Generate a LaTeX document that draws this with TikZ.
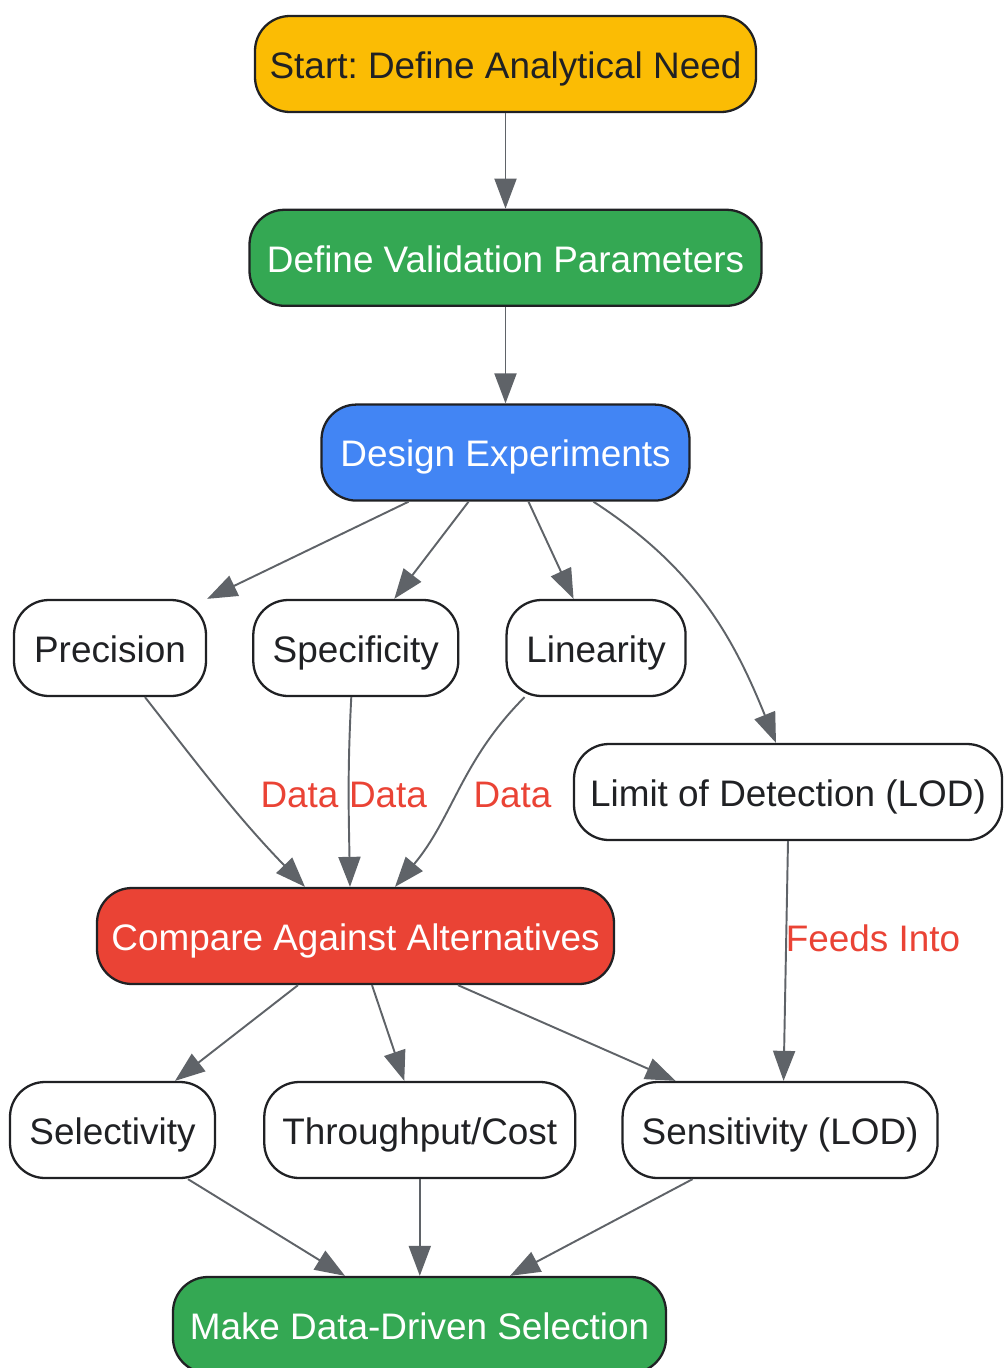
\documentclass[tikz,border=0pt]{standalone}
\usepackage{fontspec}
\setmainfont{Liberation Sans}
\usetikzlibrary{arrows.meta, positioning, calc}
\definecolor{needyellow}{HTML}{FBBC04}
\definecolor{stepgreen}{HTML}{34A853}
\definecolor{designblue}{HTML}{4285F4}
\definecolor{compared}{HTML}{EA4335}
\definecolor{borderdark}{HTML}{202124}
\definecolor{edgegray}{HTML}{5F6368}
\frenchspacing

\begin{document}
\begin{tikzpicture}[
        base/.style={rectangle, draw=borderdark, line width=1.3pt, rounded corners=0.7cm, minimum height=1.92cm, inner sep=0pt, text height=0.57cm, text depth=0cm, align=center, text=borderdark, font=\fontsize{21}{25}\selectfont},
        plainbox/.style={base, fill=white},
        yellowbox/.style={base, fill=needyellow},
        greenbox/.style={base, fill=stepgreen, text=white},
        bluebox/.style={base, fill=designblue, text=white},
        redbox/.style={base, fill=compared, text=white},
        link/.style={-{Triangle[length=0.6cm, width=0.44cm]}, line width=1.1pt, draw=edgegray},
        lbl/.style={text=compared, inner sep=0pt, text height=0.57cm, text depth=0cm, font=\fontsize{21}{25}\selectfont}
    ]
        \useasboundingbox (0,0) rectangle (20.08,-27.36);

        \node[yellowbox, minimum width=10.02cm] (start) at (10.11,-1.28) {Start: Define Analytical Need};
        \node[greenbox, minimum width=10.24cm, below=1.91cm of start] (params) {Define Validation Parameters};
        \node[bluebox, minimum width=7.36cm, below=1.93cm of params] (design) {Design Experiments};

        \node[plainbox, minimum width=3.84cm] (precision) at (2.2,-12.96) {Precision};
        \node[plainbox, minimum width=4.1cm, right=0.9cm of precision] (specificity) {Specificity};
        \node[plainbox, minimum width=3.58cm, right=0.92cm of specificity] (linearity) {Linearity};
        \node[plainbox, minimum width=8.56cm] (lod) at (15.76,-15.84) {Limit of Detection (LOD)};

        \node[redbox, minimum width=10.34cm] (compare) at (7.11,-18.72) {Compare Against Alternatives};

        \node[plainbox, minimum width=4.1cm] (selectivity) at (2.25,-22.6) {Selectivity};
        \node[plainbox, minimum width=6.22cm, right=0.94cm of selectivity] (throughput) {Throughput/Cost};
        \node[plainbox, minimum width=6.3cm, right=0.9cm of throughput] (sensitivity) {Sensitivity (LOD)};

        \node[greenbox, minimum width=9.86cm] (selection) at (8.39,-26.5) {Make Data-Driven Selection};

        % edge labels
        \node[lbl] (dataprec) at (5.99,-15.86) {Data};
        \node[lbl] (dataspec) at (7.76,-15.86) {Data};
        \node[lbl] (datalin) at (10.25,-15.86) {Data};
        \node[lbl] (feeds) at (17.46,-18.74) {Feeds Into};

        \draw[link] (start) -- (params);
        \draw[link] (params) -- (design);
        \draw[link] ($(design.south)+(-1.94,0)$) -- (precision.north east);
        \draw[link] ($(design.south)+(-0.74,0)$) -- ($(specificity.north)+(0.77,0)$);
        \draw[link] ($(design.south)+(0.46,0)$) -- ($(linearity.north)+(-0.45,0)$);
        \draw[link] ($(design.south)+(1.76,0)$) to[out=-33, in=112] ($(lod.north)+(-0.24,0)$);

        \draw[link] ($(precision.south)+(0.7,0)$) to[out=-52, in=134] ($(compare.north)+(-1.01,0)$);
        \draw[link] ($(specificity.south)+(-0.09,0)$) to[out=-93, in=91] ($(compare.north)+(-0.11,0)$);
        \draw[link] ($(linearity.south)+(-1.43,0)$) to[out=-135, in=50] ($(compare.north)+(0.79,0)$);
        \draw[link] (lod.south) -- ($(sensitivity.north)+(0.07,0)$);

        \draw[link] ($(compare.south)+(-1.15,0)$) -- ($(selectivity.north)+(1.25,0)$);
        \draw[link] ($(compare.south)+(0.33,0)$) -- ($(throughput.north)+(-0.31,0)$);
        \draw[link] ($(compare.south)+(2.05,0)$) -- ($(sensitivity.north)+(-2.09,0)$);

        \draw[link] ($(selectivity.south)+(1.51,0)$) -- ($(selection.north)+(-1.49,0)$);
        \draw[link] (throughput) -- (selection.north -| throughput);
        \draw[link] ($(sensitivity.south)+(-1.75,0)$) -- ($(selection.north)+(1.81,0)$);
    \end{tikzpicture}
\end{document}
